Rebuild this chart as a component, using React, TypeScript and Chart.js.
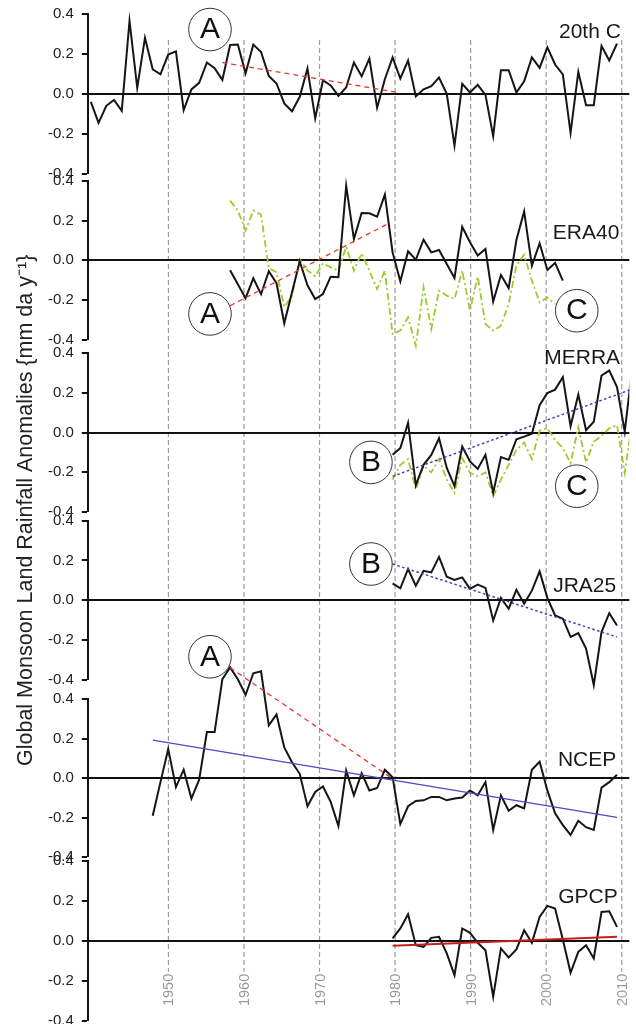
import React, { useEffect, useRef } from 'react';
import { Chart, registerables } from 'chart.js';

Chart.register(...registerables);

const FONT = "'Liberation Sans', Arial, Helvetica, sans-serif";
const TITLE = 'Global Monsoon Land Rainfall Anomalies {mm da y\u207B\u00B9}';

// axis ticks
const DECADES = [1950, 1960, 1970, 1980, 1990, 2000, 2010];
const Y_TICKS = [-0.4, -0.2, 0, 0.2, 0.4];

// ---- series (annual values) ----
const C20_START = 1940;
const C20_VALUES = [
  -0.04, -0.145, -0.06, -0.03, -0.085, 0.365, 0.03, 0.28, 0.123, 0.098,
  0.197, 0.213, -0.082, 0.022, 0.055, 0.157, 0.128, 0.07, 0.245, 0.247,
  0.103, 0.247, 0.21, 0.09, 0.052, -0.048, -0.087, -0.015, 0.127, -0.123,
  0.068, 0.042, -0.01, 0.032, 0.157, 0.088, 0.177, -0.07, 0.073, 0.182,
  0.077, 0.167, -0.013, 0.023, 0.038, 0.082, 0.0, -0.26, 0.05, 0.007,
  0.045, -0.005, -0.212, 0.118, 0.118, 0.007, 0.063, 0.183, 0.13, 0.233,
  0.147, 0.098, -0.195, 0.11, -0.057, -0.057, 0.24, 0.167, 0.252,
];

const ERA40_START = 1958;
const ERA40_VALUES = [
  -0.05, -0.12, -0.19, -0.09, -0.17, -0.055, -0.115, -0.316, -0.16, -0.005,
  -0.125, -0.194, -0.169, -0.082, -0.085, 0.375, 0.107, 0.238, 0.236, 0.219,
  0.33, 0.04, -0.105, 0.045, 0.003, 0.104, 0.04, 0.052, -0.018, -0.088,
  0.169, 0.091, 0.024, 0.057, -0.207, -0.074, -0.139, 0.102, 0.246, -0.027,
  0.086, -0.048, -0.013, -0.102,
];
const ERA40_C_VALUES = [
  0.3, 0.25, 0.15, 0.25, 0.23, -0.04, -0.06, -0.235, -0.18, 0.005,
  -0.05, -0.08, -0.015, -0.035, -0.052, 0.069, -0.052, 0.035, -0.052, -0.144,
  -0.052, -0.37, -0.353, -0.286, -0.429, -0.135, -0.345, -0.152, -0.177, -0.194,
  -0.052, -0.253, -0.082, -0.32, -0.353, -0.328, -0.219, -0.027, 0.029, -0.102,
  -0.211, -0.186, -0.219,
];

const MERRA_START = 1979;
const MERRA_VALUES = [
  -0.112, -0.078, 0.05, -0.265, -0.162, -0.112, -0.028, -0.178, -0.27, -0.07,
  -0.145, -0.183, -0.112, -0.303, -0.123, -0.137, -0.033, -0.02, -0.005, 0.138,
  0.2, 0.217, 0.28, 0.033, 0.192, 0.013, 0.055, 0.288, 0.313, 0.23,
  0.005, 0.335,
];
const MERRA_C_VALUES = [
  -0.237, -0.162, -0.133, -0.287, -0.167, -0.2, -0.133, -0.237, -0.303, -0.128,
  -0.203, -0.22, -0.2, -0.32, -0.237, -0.162, -0.087, -0.05, -0.133, 0.01,
  0.022, -0.037, -0.078, -0.153, 0.027, -0.15, -0.045, -0.017, 0.022, 0.038,
  -0.203, 0.065,
];

const JRA25_START = 1979;
const JRA25_VALUES = [
  0.085, 0.06, 0.157, 0.073, 0.148, 0.14, 0.218, 0.118, 0.102, 0.115,
  0.057, 0.078, 0.062, -0.102, 0.012, -0.043, 0.052, -0.018, 0.048, 0.145,
  0.012, -0.077, -0.093, -0.185, -0.165, -0.243, -0.427, -0.16, -0.065, -0.127,
];

const NCEP_START = 1948;
const NCEP_VALUES = [
  -0.19, -0.02, 0.147, -0.045, 0.043, -0.103, -0.008, 0.233, 0.233, 0.5,
  0.56, 0.5, 0.42, 0.53, 0.54, 0.267, 0.322, 0.155, 0.08, 0.022,
  -0.142, -0.07, -0.042, -0.12, -0.242, 0.038, -0.087, 0.025, -0.062, -0.05,
  0.042, 0.005, -0.232, -0.142, -0.115, -0.112, -0.095, -0.095, -0.112, -0.103,
  -0.098, -0.062, -0.087, -0.02, -0.262, -0.087, -0.165, -0.137, -0.153, 0.042,
  0.083, -0.062, -0.178, -0.237, -0.287, -0.215, -0.248, -0.262, -0.048, -0.02,
  0.017,
];

const GPCP_START = 1979;
const GPCP_VALUES = [
  0.012, 0.062, 0.133, -0.022, -0.03, 0.015, 0.02, -0.063, -0.172, 0.062,
  0.04, -0.01, -0.047, -0.28, -0.038, -0.083, -0.043, 0.053, -0.01, 0.12,
  0.175, 0.162, 0.007, -0.16, -0.055, -0.022, -0.088, 0.145, 0.148, 0.07,
];

// ---- trend lines [year, value] ----
const TREND_C20 = [[1957, 0.157], [1979.5, 0.008]];
const TREND_ERA40 = [[1958, -0.228], [1978.5, 0.186]];
const TREND_MERRA = [[1979, -0.22], [2010, 0.22]];
const TREND_JRA25 = [[1979, 0.182], [2008, -0.185]];
const TREND_NCEP_A = [[1958, 0.558], [1979, -0.003]];
const TREND_NCEP = [[1948, 0.192], [2008, -0.198]];
const TREND_GPCP = [[1979, -0.025], [2008, 0.02]];

// ---- labels ----
const PANEL_LABELS = [
  { text: '20th C', axis: 'y20c', x: 2008.5, y: 0.308 },
  { text: 'ERA40', axis: 'yERA', x: 2008.3, y: 0.137 },
  { text: 'MERRA', axis: 'yMERRA', x: 2008.4, y: 0.374 },
  { text: 'JRA25', axis: 'yJRA', x: 2007.9, y: 0.07 },
  { text: 'NCEP', axis: 'yNCEP', x: 2007.9, y: 0.091 },
  { text: 'GPCP', axis: 'yGPCP', x: 2008.1, y: 0.22 },
];
const CIRCLED = [
  { letter: 'A', axis: 'y20c', x: 1955.4, y: 0.322 },
  { letter: 'A', axis: 'yERA', x: 1955.4, y: -0.269 },
  { letter: 'C', axis: 'yERA', x: 2002.8, y: -0.253 },
  { letter: 'B', axis: 'yMERRA', x: 1976.2, y: -0.15 },
  { letter: 'C', axis: 'yMERRA', x: 2002.8, y: -0.27 },
  { letter: 'B', axis: 'yJRA', x: 1976.2, y: 0.182 },
  { letter: 'A', axis: 'yNCEP', x: 1955.4, y: 0.6135 },
];

// ---- layout (vertical stack of panel axes and gaps, in px weights) ----
const STACK = [
  { id: 'gapTop', size: 14 },
  { id: 'y20c', size: 159.7, panel: true },
  { id: 'gap1', size: 7 },
  { id: 'yERA', size: 159.3, panel: true },
  { id: 'gap2', size: 13.3 },
  { id: 'yMERRA', size: 158.7, panel: true },
  { id: 'gap3', size: 8.7 },
  { id: 'yJRA', size: 159, panel: true },
  { id: 'gap4', size: 19.3 },
  { id: 'yNCEP', size: 158.3, panel: true },
  { id: 'gap5', size: 3.7 },
  { id: 'yGPCP', size: 159.7, panel: true },
];
const X_DATA_RANGE = [1939.61, 2009.59];
const X_GRID_RANGE = [1939.33, 2011.0];
const GRID_SPAN = { fromAxis: 'y20c', fromValue: 0.27, toAxis: 'yGPCP', toValue: -0.155 };
const AXIS_WIDTH = 49;

const series = (start: number, values: number[]) => values.map((v, i) => ({ x: start + i, y: v }));
const seg = (pts: number[][]) => pts.map(([x, y]) => ({ x, y }));

const BLACK = { borderColor: '#151515', borderWidth: 2 };
const GREEN = { borderColor: '#9BCB2E', borderWidth: 1.8, borderDash: [7, 3, 2, 3] };
const RED_DASH = { borderColor: '#E53A2F', borderWidth: 1.3, borderDash: [5, 4] };
const BLUE_DOT = { borderColor: '#3F3FBF', borderWidth: 1.5, borderDash: [2.5, 2.5] };
const BLUE_SOLID = { borderColor: '#4A4AC2', borderWidth: 1.2 };
const RED_SOLID = { borderColor: '#C41E1E', borderWidth: 2 };

const ds = (data: any[], yAxisID: string, style: any) => ({
  type: 'line',
  data,
  yAxisID,
  xAxisID: 'x',
  pointRadius: 0,
  pointHoverRadius: 0,
  tension: 0,
  fill: false,
  // clip horizontally to the plot, but let panels overflow vertically
  clip: { left: 0, right: 0, top: false, bottom: false },
  ...style,
});

const overlayPlugin = {
  id: 'overlay',
  beforeDraw(chart: any) {
    const { ctx } = chart;
    const xg = chart.scales.xg;
    const top = chart.scales[GRID_SPAN.fromAxis].getPixelForValue(GRID_SPAN.fromValue);
    const bottom = chart.scales[GRID_SPAN.toAxis].getPixelForValue(GRID_SPAN.toValue);
    ctx.save();
    ctx.strokeStyle = '#9c9c9c';
    ctx.lineWidth = 1.2;
    ctx.setLineDash([5, 3]);
    DECADES.forEach((d) => {
      const px = xg.getPixelForValue(d);
      ctx.beginPath();
      ctx.moveTo(px, top);
      ctx.lineTo(px, bottom);
      ctx.stroke();
    });
    ctx.setLineDash([]);
    ctx.fillStyle = '#9a9a9a';
    ctx.font = `14.5px ${FONT}`;
    ctx.textAlign = 'right';
    ctx.textBaseline = 'middle';
    DECADES.forEach((d) => {
      const px = xg.getPixelForValue(d);
      ctx.save();
      ctx.translate(px, bottom + 2);
      ctx.rotate(-Math.PI / 2);
      ctx.fillText(String(d), 0, 1);
      ctx.restore();
    });
    ctx.restore();
  },
  afterDatasetsDraw(chart: any) {
    const { ctx } = chart;
    const xs = chart.scales.x;
    ctx.save();
    ctx.font = `21px ${FONT}`;
    ctx.fillStyle = '#1a1a1a';
    ctx.textAlign = 'right';
    ctx.textBaseline = 'middle';
    PANEL_LABELS.forEach((l) => {
      ctx.fillText(l.text, xs.getPixelForValue(l.x), chart.scales[l.axis].getPixelForValue(l.y));
    });
    ctx.textAlign = 'center';
    ctx.font = `30px ${FONT}`;
    CIRCLED.forEach((c) => {
      const px = xs.getPixelForValue(c.x);
      const py = chart.scales[c.axis].getPixelForValue(c.y);
      ctx.beginPath();
      ctx.arc(px, py, 21.3, 0, Math.PI * 2);
      ctx.fillStyle = '#ffffff';
      ctx.fill();
      ctx.strokeStyle = '#333333';
      ctx.lineWidth = 1;
      ctx.stroke();
      ctx.fillStyle = '#111111';
      ctx.fillText(c.letter, px, py + 0.5);
    });
    ctx.restore();
  },
};

export default function App() {
  const ref = useRef<HTMLCanvasElement>(null);

  useEffect(() => {
    const scales: any = {
      x: { type: 'linear', axis: 'x', position: 'bottom', display: false, min: X_DATA_RANGE[0], max: X_DATA_RANGE[1] },
      xg: { type: 'linear', axis: 'x', position: 'bottom', display: false, min: X_GRID_RANGE[0], max: X_GRID_RANGE[1] },
    };
    const fixWidth = (sc: any) => { sc.width = AXIS_WIDTH; sc.paddingTop = 0; sc.paddingBottom = 0; };
    STACK.forEach((s, i) => {
      const weight = STACK.length - i;
      if (!s.panel) {
        scales[s.id] = {
          type: 'linear', axis: 'y', position: 'left', stack: 'panels', stackWeight: s.size, weight,
          display: false, min: 0, max: 1,
          afterFit: fixWidth,
        };
        return;
      }
      scales[s.id] = {
        type: 'linear', axis: 'y', position: 'left', stack: 'panels', stackWeight: s.size, weight,
        min: -0.4, max: 0.4,
        afterBuildTicks: (sc: any) => { sc.ticks = Y_TICKS.map((v) => ({ value: v })); },
        afterFit: fixWidth,
        ticks: {
          color: '#222',
          font: { family: FONT, size: 15 },
          padding: 8,
          autoSkip: false,
          callback: (v: any) => Number(v).toFixed(1),
        },
        grid: {
          drawOnChartArea: true,
          color: (c: any) => (c.tick && c.tick.value === 0 ? '#111' : 'rgba(0,0,0,0)'),
          lineWidth: (c: any) => (c.tick && c.tick.value === 0 ? 2 : 0),
          drawTicks: true,
          tickLength: 6,
          tickColor: '#111',
          tickWidth: 2,
        },
        border: { display: true, color: '#111', width: 2 },
      };
    });

    const datasets: any[] = [
      ds(seg(TREND_C20), 'y20c', RED_DASH),
      ds(seg(TREND_ERA40), 'yERA', RED_DASH),
      ds(seg(TREND_MERRA), 'yMERRA', BLUE_DOT),
      ds(seg(TREND_JRA25), 'yJRA', BLUE_DOT),
      ds(seg(TREND_NCEP_A), 'yNCEP', RED_DASH),
      ds(seg(TREND_NCEP), 'yNCEP', BLUE_SOLID),
      ds(seg(TREND_GPCP), 'yGPCP', RED_SOLID),
      ds(series(C20_START, C20_VALUES), 'y20c', BLACK),
      ds(series(ERA40_START, ERA40_VALUES), 'yERA', BLACK),
      ds(series(MERRA_START, MERRA_VALUES), 'yMERRA', BLACK),
      ds(series(JRA25_START, JRA25_VALUES), 'yJRA', BLACK),
      ds(series(NCEP_START, NCEP_VALUES), 'yNCEP', BLACK),
      ds(series(GPCP_START, GPCP_VALUES), 'yGPCP', BLACK),
      ds(series(ERA40_START, ERA40_C_VALUES), 'yERA', GREEN),
      ds(series(MERRA_START, MERRA_C_VALUES), 'yMERRA', GREEN),
    ];

    const chart = new Chart(ref.current as HTMLCanvasElement, {
      type: 'line',
      data: { datasets },
      options: {
        animation: false,
        responsive: false,
        devicePixelRatio: 1,
        layout: { padding: { top: 0, bottom: 3.3, left: 0, right: 6.7 } },
        plugins: {
          legend: { display: false },
          tooltip: { enabled: false },
          title: {
            display: true,
            position: 'left',
            text: TITLE,
            color: '#222',
            font: { family: FONT, size: 21.5, weight: 'normal' },
            padding: { top: 13, bottom: 0 },
          },
        },
        scales,
      } as any,
      plugins: [overlayPlugin],
    } as any);
    return () => chart.destroy();
  }, []);

  return (
    <div style={{ position: 'absolute', left: 0, top: 0, width: 636, height: 1024, background: '#fff' }}>
      <canvas ref={ref} width={636} height={1024} style={{ display: 'block' }} />
    </div>
  );
}
